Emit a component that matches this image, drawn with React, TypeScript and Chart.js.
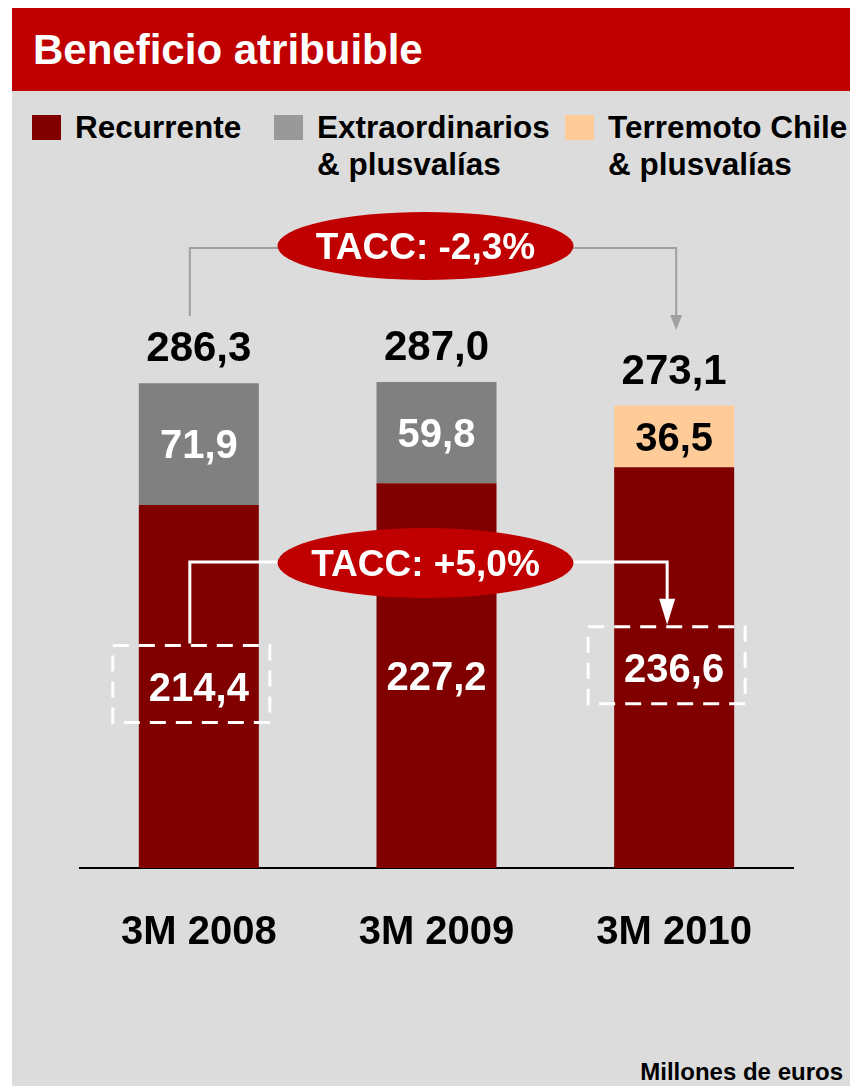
import React, { useEffect, useRef } from "react";
import { Chart, registerables } from "chart.js";

Chart.register(...registerables);

const categories = ["3M 2008", "3M 2009", "3M 2010"];
const recurrente = [214.4, 227.2, 236.6];
const extraordinarios = [71.9, 59.8, null];
const terremoto = [null, null, 36.5];
const totals = [286.3, 287.0, 273.1];
const taccTotal = "TACC: -2,3%";
const taccRecurrente = "TACC: +5,0%";
const seriesNames = ["Recurrente", "Extraordinarios", "Terremoto Chile"];

const FONT = "'Liberation Sans', Arial, Helvetica, sans-serif";
const fmt = (v: number) => v.toFixed(1).replace(".", ",");

function ellipse(ctx: CanvasRenderingContext2D, cx: number, cy: number, rx: number, ry: number, text: string) {
  ctx.save();
  ctx.beginPath();
  ctx.ellipse(cx, cy, rx, ry, 0, 0, Math.PI * 2);
  ctx.fillStyle = "#C00000";
  ctx.fill();
  ctx.fillStyle = "#FFFFFF";
  ctx.font = `bold 37px ${FONT}`;
  ctx.textAlign = "center";
  ctx.textBaseline = "alphabetic";
  ctx.fillText(text, cx, cy + 37 * 0.716 / 2);
  ctx.restore();
}

const overlayPlugin = {
  id: "overlay",
  afterDatasetsDraw(chart: any) {
    const ctx: CanvasRenderingContext2D = chart.ctx;
    const xs = chart.scales.x;
    const x0 = xs.getPixelForValue(0);
    const x2 = xs.getPixelForValue(2);
    const cx = (x0 + x2) / 2 - 11;

    // segment labels
    const labelCenters: { x: number; y: number }[] = [];
    chart.data.datasets.forEach((ds: any, di: number) => {
      const meta = chart.getDatasetMeta(di);
      meta.data.forEach((el: any, i: number) => {
        const v = ds.data[i];
        if (v == null) return;
        const cy = (el.y + el.base) / 2;
        if (di === 0) labelCenters[i] = { x: el.x, y: cy };
        ctx.save();
        ctx.font = `bold 40px ${FONT}`;
        ctx.fillStyle = di === 2 ? "#000000" : "#FFFFFF";
        ctx.textAlign = "center";
        ctx.textBaseline = "alphabetic";
        ctx.fillText(fmt(v), el.x, cy + 40 * 0.716 / 2);
        ctx.restore();
      });
    });

    // totals
    const ys = chart.scales.y;
    totals.forEach((t, i) => {
      const x = xs.getPixelForValue(i);
      const top = ys.getPixelForValue(t);
      ctx.save();
      ctx.font = `bold 42px ${FONT}`;
      ctx.fillStyle = "#000000";
      ctx.textAlign = "center";
      ctx.textBaseline = "alphabetic";
      ctx.fillText(fmt(t), x, top - 22);
      ctx.restore();
    });

    // top connector (gray)
    const topY = 246;
    ctx.save();
    ctx.strokeStyle = "#A0A0A0";
    ctx.fillStyle = "#A0A0A0";
    ctx.lineWidth = 2;
    ctx.beginPath();
    ctx.moveTo(x0 - 9, 316);
    ctx.lineTo(x0 - 9, topY + 2);
    ctx.lineTo(cx, topY + 2);
    ctx.moveTo(cx, topY + 2);
    ctx.lineTo(x2 + 2, topY + 2);
    ctx.lineTo(x2 + 2, 318);
    ctx.stroke();
    ctx.beginPath();
    ctx.moveTo(x2 + 2 - 6, 315);
    ctx.lineTo(x2 + 2 + 6, 315);
    ctx.lineTo(x2 + 2, 330);
    ctx.closePath();
    ctx.fill();
    ctx.restore();
    ellipse(ctx, cx, topY, 148, 34, taccTotal);

    // dashed boxes
    const b1 = labelCenters[0];
    const b3 = labelCenters[2];
    ctx.save();
    ctx.strokeStyle = "#FFFFFF";
    ctx.lineWidth = 3;
    ctx.setLineDash([16, 10]);
    [b1, b3].forEach((c) => {
      if (!c) return;
      ctx.strokeRect(c.x - 86, c.y - 41, 157, 77);
    });
    ctx.restore();

    // bottom connector (white)
    const midY = 563;
    const boxTop1 = b1 ? b1.y - 41 : 643;
    const boxTop3 = b3 ? b3.y - 41 : 627;
    ctx.save();
    ctx.strokeStyle = "#FFFFFF";
    ctx.fillStyle = "#FFFFFF";
    ctx.lineWidth = 3;
    ctx.beginPath();
    ctx.moveTo(x0 - 9, boxTop1 - 2);
    ctx.lineTo(x0 - 9, midY - 1);
    ctx.lineTo(x2 - 7, midY - 1);
    ctx.lineTo(x2 - 7, boxTop3 - 24);
    ctx.stroke();
    ctx.beginPath();
    ctx.moveTo(x2 - 7 - 8, boxTop3 - 28);
    ctx.lineTo(x2 - 7 + 8, boxTop3 - 28);
    ctx.lineTo(x2 - 7, boxTop3 - 2);
    ctx.closePath();
    ctx.fill();
    ctx.restore();
    ellipse(ctx, cx, midY, 148, 35, taccRecurrente);
  },
};

function Text({ left, baseline, size, children, right }: any) {
  const style: any = {
    position: "absolute",
    top: baseline - size * 0.8465,
    fontFamily: FONT,
    fontWeight: "bold",
    fontSize: size,
    lineHeight: 1,
    whiteSpace: "nowrap",
    color: "#000",
  };
  if (right != null) style.right = right;
  else style.left = left;
  return <div style={style}>{children}</div>;
}

export default function App() {
  const ref = useRef<HTMLCanvasElement>(null);

  useEffect(() => {
    if (!ref.current) return;
    const chart = new Chart(ref.current, {
      type: "bar",
      data: {
        labels: categories,
        datasets: [
          { label: seriesNames[0], data: recurrente, backgroundColor: "#800000", borderWidth: 0 },
          { label: seriesNames[1], data: extraordinarios, backgroundColor: "#808080", borderWidth: 0 },
          { label: seriesNames[2], data: terremoto, backgroundColor: "#FFCC99", borderWidth: 0 },
        ] as any,
      },
      options: {
        responsive: false,
        animation: false,
        layout: { padding: { left: 80, right: 57, top: 360, bottom: 96 } },
        datasets: { bar: { categoryPercentage: 1, barPercentage: 0.505 } } as any,
        plugins: { legend: { display: false }, tooltip: { enabled: false }, title: { display: false } },
        scales: {
          x: {
            stacked: true,
            grid: { display: false },
            border: { display: true, color: "#000000", width: 2 },
            ticks: {
              color: "#000000",
              padding: 33,
              font: { family: FONT, size: 40, weight: "bold" },
            },
          },
          y: { stacked: true, display: false, min: 0, max: 300 },
        },
      },
      plugins: [overlayPlugin],
    });
    return () => chart.destroy();
  }, []);

  return (
    <div style={{ position: "absolute", left: 0, top: 0, width: 850, height: 1086, overflow: "hidden", background: "#FFFFFF" }}>
      <div style={{ position: "absolute", left: 12, top: 91, width: 838, height: 995, background: "#DCDCDC" }} />
      <div style={{ position: "absolute", left: 12, top: 8, width: 838, height: 83, background: "#C00000" }} />
      <div style={{ position: "absolute", left: 33, top: 65 - 42 * 0.8465, fontFamily: FONT, fontWeight: "bold", fontSize: 42, lineHeight: 1, color: "#FFFFFF", whiteSpace: "nowrap" }}>
        Beneficio atribuible
      </div>
      <div style={{ position: "absolute", left: 32, top: 115, width: 29, height: 25, background: "#800000" }} />
      <Text left={75} baseline={138.5} size={31.5}>Recurrente</Text>
      <div style={{ position: "absolute", left: 274, top: 115, width: 29, height: 25, background: "#999999" }} />
      <Text left={317} baseline={138.5} size={31.5}>Extraordinarios</Text>
      <Text left={317} baseline={176} size={31.5}>& plusvalías</Text>
      <div style={{ position: "absolute", left: 565, top: 115, width: 29, height: 25, background: "#FFCC99" }} />
      <Text left={608} baseline={138.5} size={31.5}>Terremoto Chile</Text>
      <Text left={608} baseline={176} size={31.5}>& plusvalías</Text>
      <Text right={7} baseline={1080} size={24}>Millones de euros</Text>
      <canvas ref={ref} width={850} height={1086} style={{ position: "absolute", left: 0, top: 0, width: 850, height: 1086 }} />
    </div>
  );
}
